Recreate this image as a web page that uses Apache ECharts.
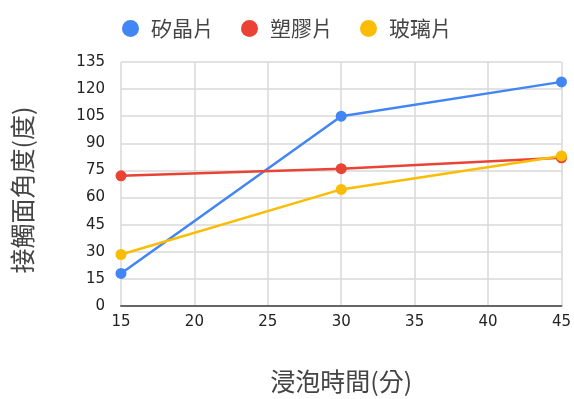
<!DOCTYPE html>
<html>
<head>
<meta charset="utf-8">
<script src="https://cdn.jsdelivr.net/npm/echarts@6/dist/echarts.min.js"></script>
<style>
  html, body { margin: 0; padding: 0; background: #fff; }
  #chart { width: 574px; height: 399px; }
</style>
</head>
<body>
<div id="chart"></div>
<script>
// Soaking time (minutes) and contact angle (degrees) per material
const soakTimes = [15, 30, 45];
const siliconWafer = [18, 105, 124];
const plasticSheet = [72, 76, 82];
const glassSlide = [28.5, 64.5, 83];
const seriesNames = ['矽晶片', '塑膠片', '玻璃片'];
const seriesColors = ['#4285F4', '#EA4335', '#FBBC04'];

const font = '"DejaVu Sans", "Noto Sans CJK TC", sans-serif';
const cjk = '"Noto Sans CJK TC", sans-serif';

function pairs(values) {
  return soakTimes.map((t, i) => [t, values[i]]);
}

const allValues = [siliconWafer, plasticSheet, glassSlide];

const chart = echarts.init(document.getElementById('chart'));
chart.setOption({
  animation: false,
  color: seriesColors,
  legend: {
    top: 13,
    left: 'center',
    icon: 'circle',
    itemWidth: 17,
    itemHeight: 17,
    itemGap: 27,
    textStyle: { fontFamily: cjk, fontSize: 21, color: '#444', padding: [0, 0, 0, 7] },
    data: seriesNames
  },
  grid: { left: 121, right: 10, top: 62, bottom: 91.5, containLabel: false },
  xAxis: {
    type: 'value',
    min: 15, max: 45, interval: 5,
    name: '浸泡時間(分)',
    nameLocation: 'middle',
    nameGap: 63,
    nameTextStyle: { fontFamily: cjk, fontSize: 25, color: '#444' },
    axisLine: { show: true, lineStyle: { color: '#666', width: 2 } },
    axisTick: { show: false },
    axisLabel: { fontFamily: font, fontSize: 15, color: '#222', margin: 9 },
    splitLine: { show: true, lineStyle: { color: '#d9d9d9', width: 1.5 } }
  },
  yAxis: {
    type: 'value',
    min: 0, max: 135, interval: 15,
    name: '接觸面角度(度)',
    nameLocation: 'middle',
    nameGap: 86,
    nameRotate: 90,
    nameTextStyle: { fontFamily: cjk, fontSize: 25, color: '#444', padding: [0, 12, 0, 0] },
    axisLine: { show: false },
    axisTick: { show: false },
    axisLabel: { fontFamily: font, fontSize: 15, color: '#222', margin: 16 },
    splitLine: { show: true, lineStyle: { color: '#d9d9d9', width: 1.5 } }
  },
  series: seriesNames.map((name, i) => ({
    name: name,
    type: 'line',
    data: pairs(allValues[i]),
    symbol: 'circle',
    symbolSize: 11,
    lineStyle: { width: 2.5 },
    itemStyle: { color: seriesColors[i] }
  }))
});
</script>
</body>
</html>
